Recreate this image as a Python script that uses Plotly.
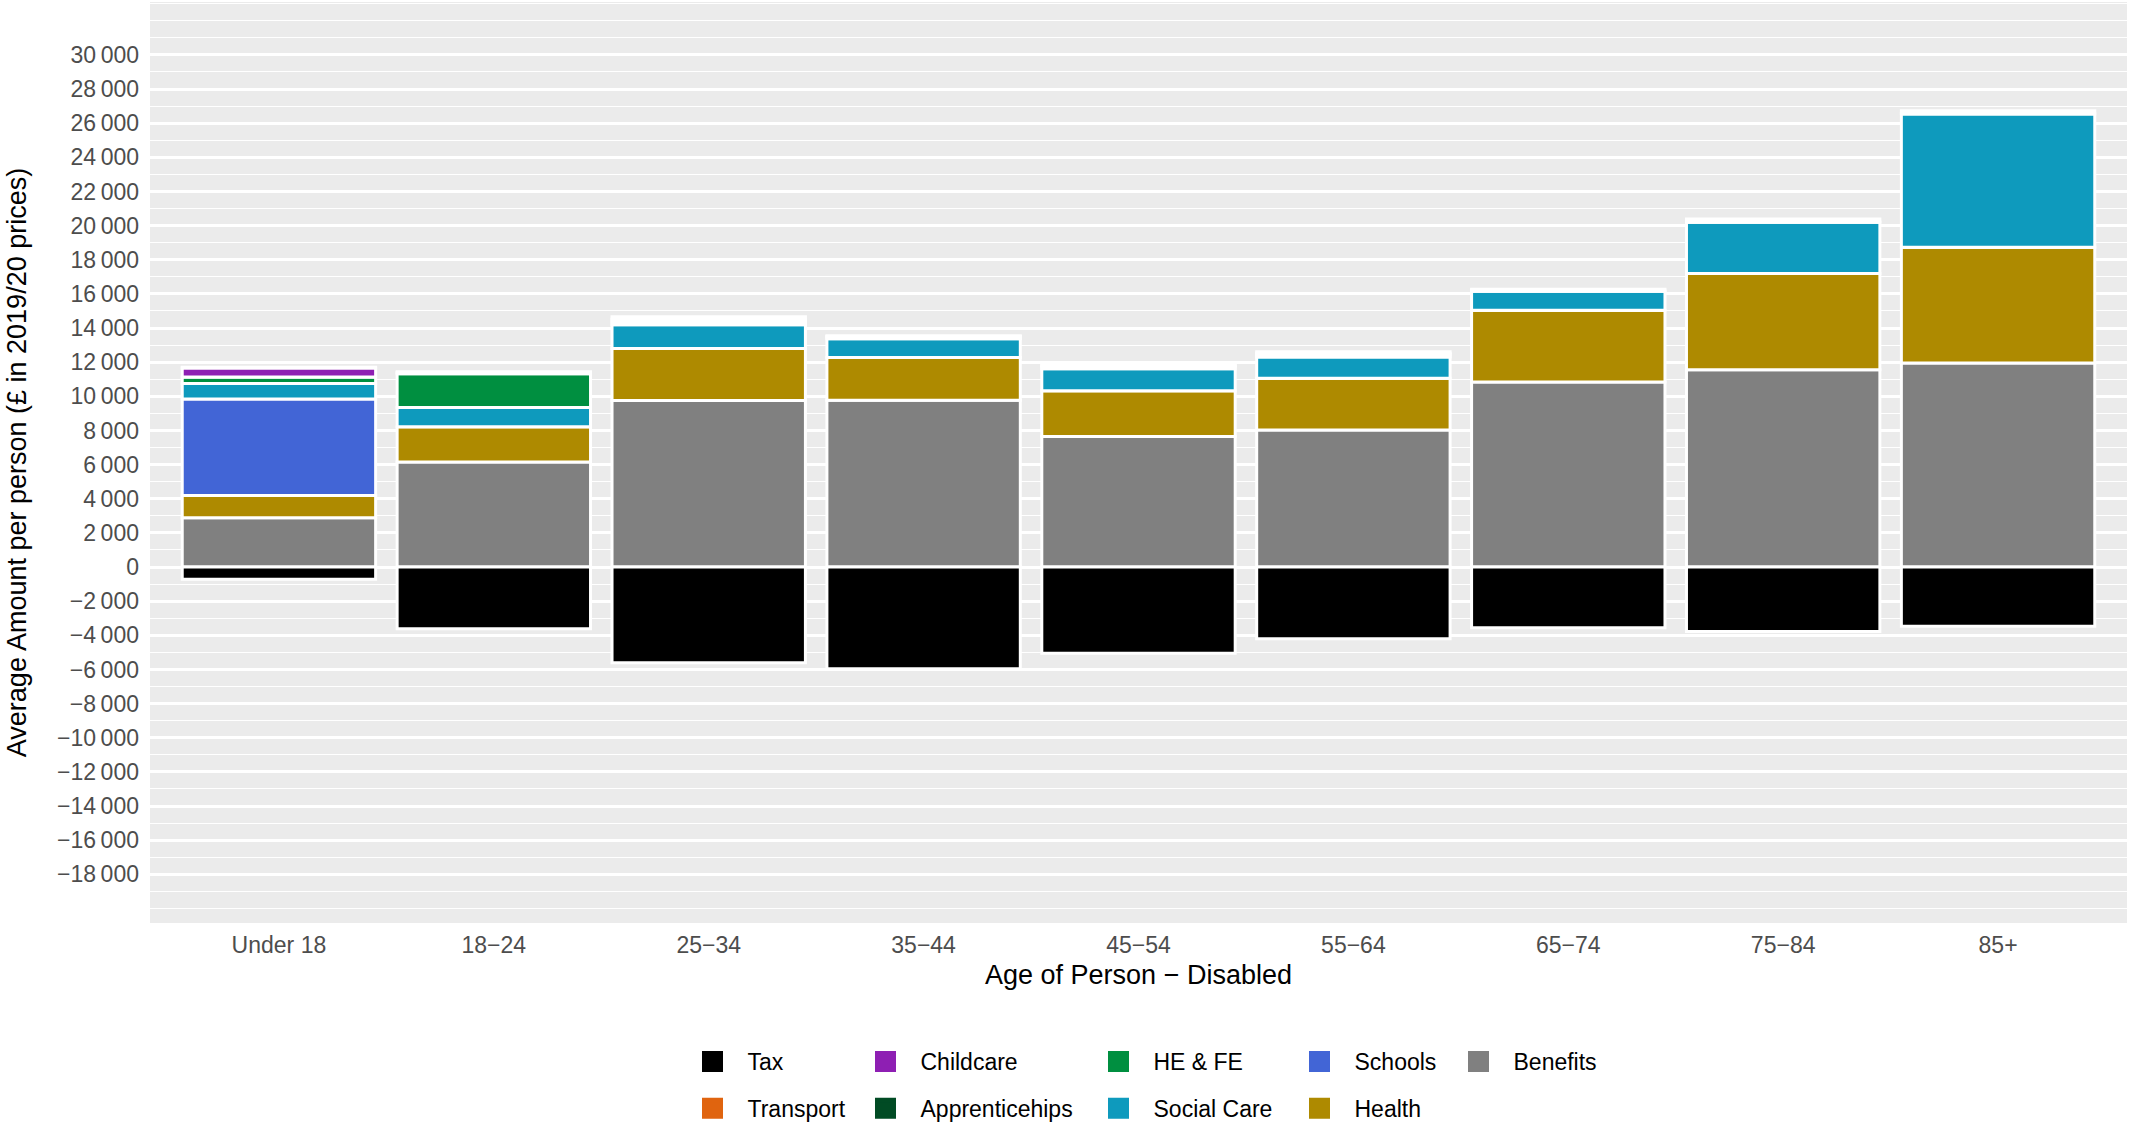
import plotly.graph_objects as go

# ---------------- data ----------------
age_groups = ["Under 18", "18\u221224", "25\u221234", "35\u221244", "45\u221254",
              "55\u221264", "65\u221274", "75\u221284", "85+"]

tax             = [-715, -3620, -5600, -5950, -5050, -4200, -3560, -3780, -3470]
benefits        = [2890, 6150, 9750, 9770, 7650, 8030, 10840, 11560, 11950]
health          = [1300, 2070, 3050, 2500, 2680, 3030, 4210, 5640, 6790]
schools         = [5650, 0, 0, 0, 0, 0, 0, 0, 0]
social_care     = [910, 1120, 1400, 1100, 1290, 1240, 1120, 3020, 7820]
he_fe           = [380, 1980, 160, 100, 120, 150, 0, 0, 0]
apprenticeships = [0, 80, 150, 40, 70, 80, 0, 0, 0]
childcare       = [530, 0, 0, 0, 0, 0, 0, 0, 0]
transport       = [40, 40, 160, 40, 60, 80, 100, 170, 170]

y_tick_values = list(range(-18000, 30001, 2000))


def fmt_tick(v):
    s = f"{abs(v):,}".replace(",", "\u2009")
    return ("\u2212" + s) if v < 0 else s


y_tick_text = [fmt_tick(v) for v in y_tick_values]

# stacking order (bottom -> top for positives)
series = [
    ("Benefits", benefits, "#808080"),
    ("Health", health, "#AE8A00"),
    ("Schools", schools, "#4265D6"),
    ("Social Care", social_care, "#0E9ABD"),
    ("HE & FE", he_fe, "#008F40"),
    ("Apprenticehips", apprenticeships, "#014B24"),
    ("Childcare", childcare, "#8E1FB3"),
    ("Transport", transport, "#E0640F"),
    ("Tax", tax, "#000000"),
]
colors = {name: col for name, _, col in series}

# legend columns (column-major, as in the reference)
legend_columns = [
    ["Tax", "Transport"],
    ["Childcare", "Apprenticehips"],
    ["HE & FE", "Social Care"],
    ["Schools", "Health"],
    ["Benefits"],
]

FONT = "Liberation Sans, Arial, Helvetica, sans-serif"
W, H = 2131, 1139
ML, MR, MT, MB = 150, 4, 2, 216
plot_w = W - ML - MR
plot_h = H - MT - MB

fig = go.Figure()
for name, vals, col in series:
    fig.add_trace(go.Bar(
        x=age_groups, y=vals, name=name,
        marker=dict(color=col, line=dict(color="white", width=3)),
        showlegend=False,
    ))

# legend proxies
key_left_px = [691, 864, 1097, 1298, 1457]
row1_center_px = 1064
legend_layouts = {}
for ci, col_items in enumerate(legend_columns):
    lname = "legend" if ci == 0 else f"legend{ci + 1}"
    for name in col_items:
        fig.add_trace(go.Scatter(
            x=[None], y=[None], mode="markers", name=name,
            marker=dict(symbol="square", size=16, color=colors[name],
                        line=dict(color=colors[name], width=5)),
            legend=lname, legendgroup=name, showlegend=True,
        ))
    box_left = key_left_px[ci] + 21.5 - 35
    legend_layouts[lname] = dict(
        x=(box_left - ML) / plot_w, xanchor="left",
        y=(H - MB - (row1_center_px - 24)) / plot_h, yanchor="top",
        orientation="v", itemwidth=60, tracegroupgap=14,
        bgcolor="rgba(0,0,0,0)",
        font=dict(family=FONT, size=23, color="black"),
    )

fig.update_layout(
    width=W, height=H,
    margin=dict(l=ML, r=MR, t=MT, b=MB, autoexpand=False),
    paper_bgcolor="white", plot_bgcolor="#EBEBEB",
    barmode="relative", bargap=0.1,
    font=dict(family=FONT, color="black"),
    **legend_layouts,
)

fig.update_xaxes(
    automargin=False,
    range=[-0.6, 8.6], showgrid=False, zeroline=False, showline=False,
    ticks="", tickfont=dict(family=FONT, size=23, color="#4D4D4D"),
    ticklabelstandoff=6,
    title=dict(text="Age of Person \u2212 Disabled", standoff=8,
               font=dict(family=FONT, size=27, color="black")),
)
fig.update_yaxes(
    automargin=False,
    range=[-20850, 33100], tickmode="array", tickvals=y_tick_values,
    ticktext=y_tick_text,
    showgrid=True, gridcolor="white", gridwidth=2.5,
    zeroline=False, showline=False, ticks="",
    tickfont=dict(family=FONT, size=23, color="#4D4D4D"),
    ticklabelstandoff=10,
    minor=dict(tickmode="linear", tick0=0, dtick=1000, showgrid=True,
               gridcolor="white", gridwidth=1.2),
    title=dict(text="Average Amount per person (\u00a3 in 2019/20 prices)",
               standoff=22, font=dict(family=FONT, size=27, color="black")),
)

fig.write_html("out.html",
               config={"displayModeBar": False},
               post_script="document.body.style.margin='0';"
                           "document.body.style.overflow='hidden';")
